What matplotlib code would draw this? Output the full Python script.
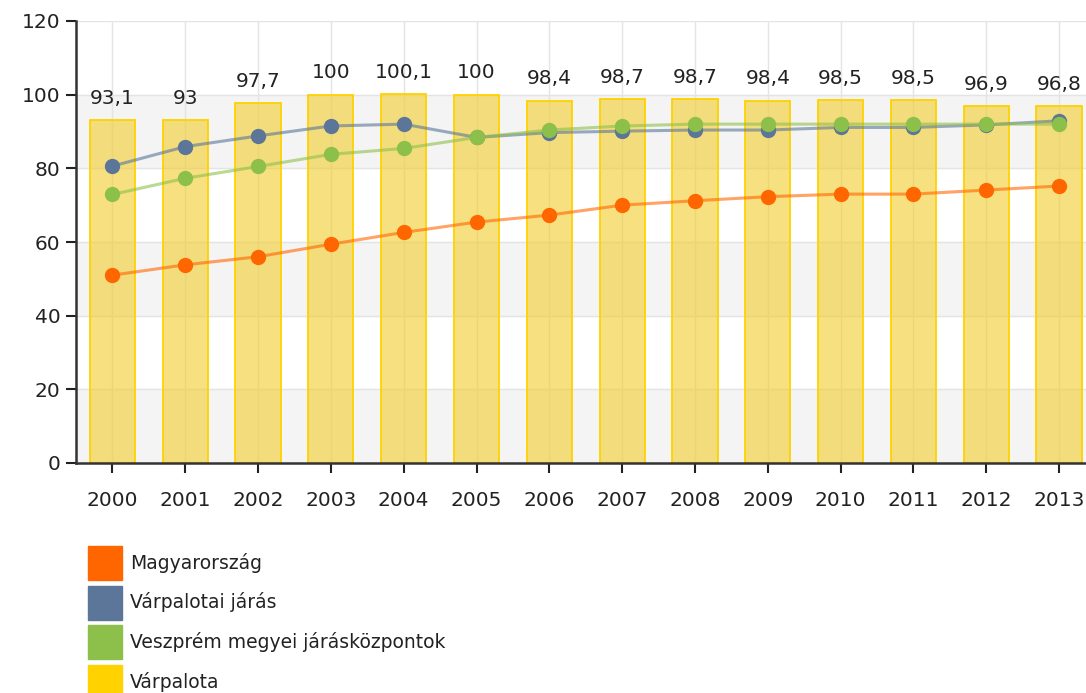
import matplotlib.pyplot as plt
from matplotlib.patches import Rectangle

years = [2000, 2001, 2002, 2003, 2004, 2005, 2006, 2007, 2008, 2009, 2010, 2011, 2012, 2013]
varpalota = [93.1, 93, 97.7, 100, 100.1, 100, 98.4, 98.7, 98.7, 98.4, 98.5, 98.5, 96.9, 96.8]
magyarorszag = [51.0, 53.8, 56.0, 59.4, 62.6, 65.4, 67.3, 70.0, 71.2, 72.3, 73.0, 73.0, 74.1, 75.2]
varpalotai_jaras = [80.6, 85.9, 88.8, 91.5, 92.0, 88.4, 89.7, 90.1, 90.4, 90.4, 91.1, 91.1, 91.8, 92.9]
veszprem_kozpontok = [72.9, 77.3, 80.5, 83.8, 85.4, 88.4, 90.4, 91.5, 92.0, 92.0, 92.0, 92.0, 92.0, 92.0]

legend_labels = ["Magyarország", "Várpalotai járás", "Veszprém megyei járásközpontok", "Várpalota"]
c_orange = "#FF6600"
c_blue = "#5B7698"
c_green = "#8DC04A"
c_gold = "#FFD200"

fig = plt.figure(figsize=(10.86, 6.93), dpi=100)
ax = fig.add_axes([76 / 1086, 1 - 463 / 693, 1 - 76 / 1086, 442 / 693])

x = list(range(len(years)))

# alternating bands
for lo in range(0, 120, 40):
    ax.axhspan(lo, lo + 20, color="#f4f4f4", zorder=0)
for v in range(20, 121, 20):
    ax.axhline(v, color="#e4e4e4", lw=1, zorder=0.5)
for xi in x:
    ax.axvline(xi, color="#e4e4e4", lw=1, zorder=0.5)

ax.bar(x, varpalota, width=0.62, color="#F2CC2A", alpha=0.6, zorder=1)
ax.bar(x, varpalota, width=0.62, fill=False, edgecolor=c_gold, lw=1.3, zorder=1.1)

for xi, v in zip(x, varpalota):
    lbl = f"{v:g}".replace(".", ",")
    ax.annotate(lbl, (xi, v), xytext=(0, 9), textcoords="offset points",
                ha="center", va="bottom", fontsize=14.5, color="#222222")

for vals, col in [(magyarorszag, c_orange), (varpalotai_jaras, c_blue), (veszprem_kozpontok, c_green)]:
    ax.plot(x, vals, color=col, lw=2.2, alpha=0.6, zorder=2)
    ax.plot(x, vals, ls="none", marker="o", ms=10, color=col, zorder=3)

ax.set_ylim(0, 120)
ax.set_xlim(-0.5, (1086 - 112) / 72.85)
ax.set_yticks(range(0, 121, 20))
ax.set_xticks(x)
ax.set_xticklabels([str(y) for y in years])
ax.tick_params(axis="both", labelsize=14.5, colors="#222222", length=7, width=1.5)
ax.tick_params(axis="x", pad=13)
ax.tick_params(axis="y", pad=4)
for s in ["top", "right"]:
    ax.spines[s].set_visible(False)
for s in ["left", "bottom"]:
    ax.spines[s].set_color("#333333")
    ax.spines[s].set_linewidth(1.8)

# legend
leg_colors = [c_orange, c_blue, c_green, c_gold]
for i, (lab, col) in enumerate(zip(legend_labels, leg_colors)):
    yc = 563 + i * 39.5
    fig.patches.append(Rectangle((88 / 1086, 1 - (yc + 17) / 693), 34 / 1086, 34 / 693,
                                 transform=fig.transFigure, color=col))
    fig.text(130 / 1086, 1 - yc / 693, lab, fontsize=13.5, va="center", ha="left", color="#222222")

fig.savefig("out.png", dpi=100)
